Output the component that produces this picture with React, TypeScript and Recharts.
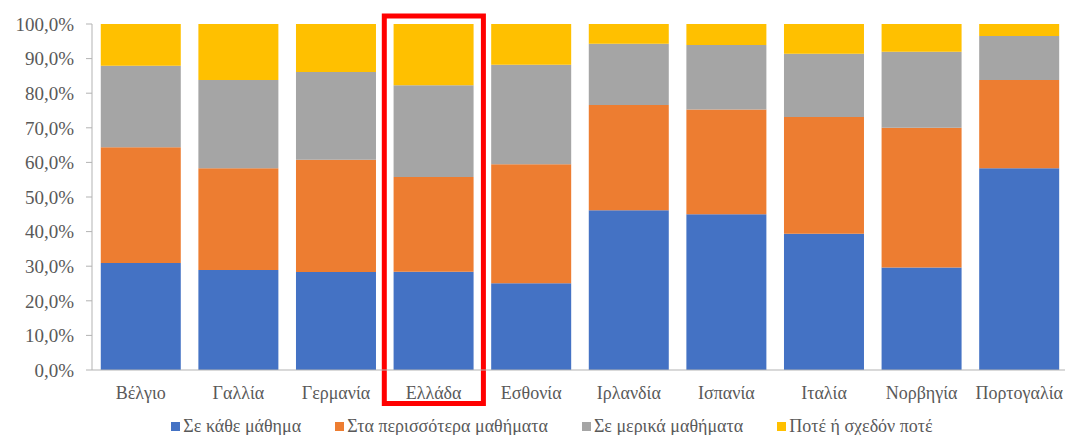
import { BarChart, Bar, XAxis, YAxis, Legend, ReferenceArea } from 'recharts';

const countries = ['Βέλγιο', 'Γαλλία', 'Γερμανία', 'Ελλάδα', 'Εσθονία', 'Ιρλανδία', 'Ισπανία', 'Ιταλία', 'Νορβηγία', 'Πορτογαλία'];

// percentage of students per answer, by country
const everyLesson = [30.9, 28.9, 28.3, 28.4, 25.1, 46.2, 45.0, 39.4, 29.6, 58.3];
const mostLessons = [33.5, 29.4, 32.5, 27.4, 34.4, 30.4, 30.3, 33.7, 40.4, 25.5];
const someLessons = [23.5, 25.5, 25.3, 26.5, 28.7, 17.7, 18.6, 18.3, 22.0, 12.7];
const neverOrAlmost = [12.1, 16.2, 13.9, 17.7, 11.8, 5.7, 6.1, 8.6, 8.0, 3.5];

const yTicks = [0, 10, 20, 30, 40, 50, 60, 70, 80, 90, 100];
const edgeTicks = [0, 1, 2, 3, 4, 5, 6, 7, 8, 9, 10];

const highlighted = 'Ελλάδα';

const series = [
  { key: 'every', name: 'Σε κάθε μάθημα', color: '#4472C4', values: everyLesson },
  { key: 'most', name: 'Στα περισσότερα μαθήματα', color: '#ED7D31', values: mostLessons },
  { key: 'some', name: 'Σε μερικά μαθήματα', color: '#A5A5A5', values: someLessons },
  { key: 'never', name: 'Ποτέ ή σχεδόν ποτέ', color: '#FFC000', values: neverOrAlmost },
];

const data = countries.map((country, i) => {
  const row: Record<string, string | number> = { country };
  series.forEach((s) => {
    row[s.key] = s.values[i];
  });
  return row;
});

const FONT = '"Liberation Serif", "Times New Roman", serif';
const TEXT = '#595959';
const AXIS = '#b3b3b3';

const LegendContent = () => (
  <div
    style={{
      display: 'flex',
      justifyContent: 'center',
      gap: 34,
      fontFamily: FONT,
      fontSize: 18,
      color: TEXT,
      lineHeight: '18px',
      whiteSpace: 'nowrap',
      paddingLeft: 36,
    }}
  >
    {series.map((s) => (
      <span key={s.key} style={{ display: 'inline-flex', alignItems: 'center' }}>
        <span style={{ width: 9, height: 9, background: s.color, marginRight: 3, display: 'inline-block' }} />
        {s.name}
      </span>
    ))}
  </div>
);

const HighlightBox = (props: any) => {
  const { x, y, width, height } = props;
  return (
    <rect
      x={x - 0.5}
      y={y - 8}
      width={width + 1.5}
      height={height + 41.5}
      fill="none"
      stroke="#ff0000"
      strokeWidth={5}
    />
  );
};

export default function App() {
  return (
    <div style={{ position: 'absolute', left: 0, top: 0, width: 1065, height: 435, overflow: 'hidden', background: '#fff' }}>
      <BarChart
        width={1068}
        height={435}
        data={data}
        margin={{ top: 24, right: 0, left: 0, bottom: 0 }}
        barCategoryGap="9%"
      >
        <XAxis
          xAxisId="edges"
          type="number"
          domain={[0, 10]}
          ticks={edgeTicks}
          allowDataOverflow
          height={0}
          axisLine={false}
          tick={false}
          tickSize={6}
          tickLine={{ stroke: AXIS }}
        />
        <XAxis
          xAxisId="cat"
          dataKey="country"
          height={47}
          tickLine={false}
          tickSize={0}
          tickMargin={16}
          axisLine={{ stroke: AXIS }}
          interval={0}
          tick={{ fontFamily: FONT, fontSize: 18, fill: TEXT }}
        />
        <YAxis
          width={92}
          domain={[0, 100]}
          ticks={yTicks}
          tickFormatter={(v: number) => `${v.toFixed(1).replace('.', ',')}%`}
          axisLine={{ stroke: AXIS }}
          tickLine={{ stroke: AXIS }}
          tickSize={6}
          tickMargin={12}
          tick={{ fontFamily: FONT, fontSize: 19, fill: TEXT }}
        />
        <Legend height={18} verticalAlign="bottom" content={<LegendContent />} />
        {series.map((s) => (
          <Bar
            key={s.key}
            xAxisId="cat"
            dataKey={s.key}
            name={s.name}
            stackId="a"
            fill={s.color}
            isAnimationActive={false}
          />
        ))}
        <ReferenceArea
          xAxisId="cat"
          x1={highlighted}
          x2={highlighted}
          y1={0}
          y2={100}
          ifOverflow="visible"
          shape={<HighlightBox />}
        />
      </BarChart>
    </div>
  );
}
